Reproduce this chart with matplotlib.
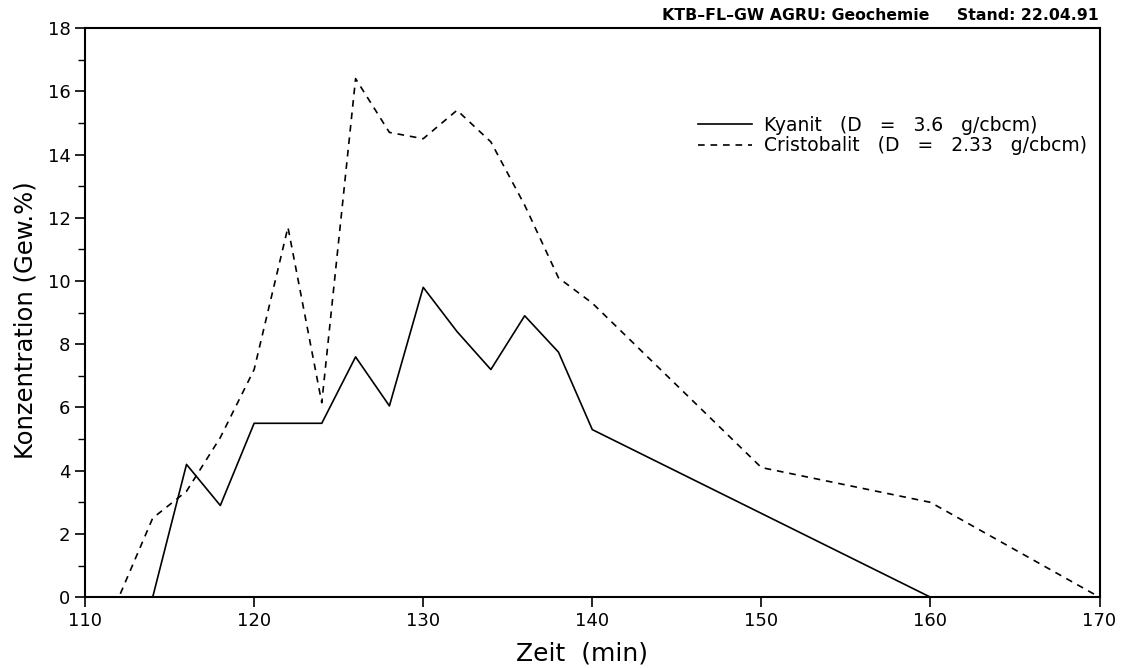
import matplotlib.pyplot as plt

# Kyanit (solid) and Cristobalit (dashed), Zeit in min, Konzentration in Gew.%
kyanit_t = [110, 114, 116, 118, 120, 124, 126, 128, 130, 132, 134, 136, 138, 140, 160]
kyanit_c = [0, 0, 4.2, 2.9, 5.5, 5.5, 7.6, 6.05, 9.8, 8.4, 7.2, 8.9, 7.75, 5.3, 0]

cristo_t = [110, 112, 114, 116, 118, 120, 122, 124, 126, 128, 130, 132, 134, 136, 138, 140, 150, 160, 170]
cristo_c = [0, 0, 2.5, 3.35, 5.05, 7.2, 11.7, 6.15, 16.4, 14.7, 14.5, 15.4, 14.4, 12.4, 10.1, 9.3, 4.1, 3.0, 0]

x_ticks = [110, 120, 130, 140, 150, 160, 170]
y_ticks = [0, 2, 4, 6, 8, 10, 12, 14, 16, 18]

plt.rcParams['font.family'] = ['DejaVu Sans']

fig = plt.figure(figsize=(11.22, 6.68), dpi=100)
ax = fig.add_axes([0.0758, 0.106, 0.9042, 0.852])

ax.plot(kyanit_t, kyanit_c, color='black', linewidth=1.2, label='Kyanit   (D   =   3.6   g/cbcm)')
ax.plot(cristo_t, cristo_c, color='black', linewidth=1.2, linestyle=(0, (4, 3.5)),
        label='Cristobalit   (D   =   2.33   g/cbcm)')

ax.set_xlim(110, 170)
ax.set_ylim(0, 18)
ax.set_xticks(x_ticks)
ax.set_yticks(y_ticks)
ax.set_yticks(range(1, 18, 2), minor=True)
ax.tick_params(axis='both', which='major', direction='out', length=7, width=1.2, labelsize=13)
ax.tick_params(axis='y', which='minor', direction='out', length=5, width=1.0)

for s in ax.spines.values():
    s.set_linewidth(1.5)

ax.set_xlabel('Zeit  (min)', fontsize=18)
ax.xaxis.set_label_coords(0.49, -0.077)
ax.set_ylabel('Konzentration (Gew.%)', fontsize=17.5)
ax.yaxis.set_label_coords(-0.047, 0.487)

ax.legend(loc='upper left', bbox_to_anchor=(0.595, 0.862), frameon=False, fontsize=13.5,
          handlelength=2.9, handletextpad=0.6, labelspacing=0.08, borderpad=0)

fig.text(0.979, 0.977, 'KTB–FL–GW AGRU: Geochemie     Stand: 22.04.91',
         ha='right', va='center', fontsize=11.3, fontweight='bold')

fig.savefig('out.png', dpi=100)
